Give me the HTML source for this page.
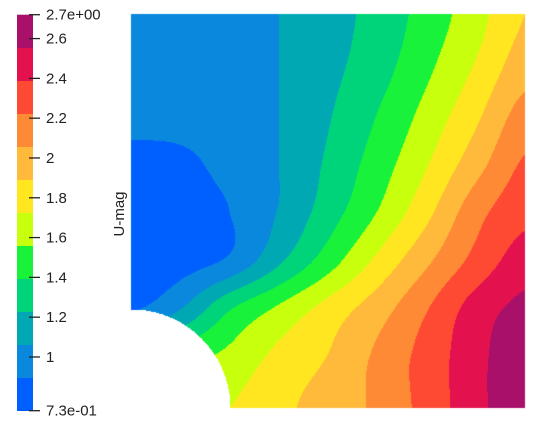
<!DOCTYPE html>
<html><head><meta charset="utf-8"><style>
html,body{margin:0;padding:0;background:#fff;}
#wrap{position:relative;width:546px;height:421px;overflow:hidden;font-family:"Liberation Sans",sans-serif;}
canvas{position:absolute;left:0;top:0;}
svg{position:absolute;left:0;top:0;}
</style></head><body>
<div id="wrap">
<canvas id="field" width="546" height="421"></canvas>
<svg id="bar" width="546" height="421"></svg>
</div>
<script>
const vMin = 0.73, vMax = 2.72;
const bandColors = ["#0060ff","#0a88dd","#00a8b4","#00d47a","#18f23a","#c8ff0c","#ffe620","#ffb93b","#ff8a36","#ff4a33","#e3124f","#a8106a"];
const tickValues = [1, 1.2, 1.4, 1.6, 1.8, 2, 2.2, 2.4, 2.6];
const tickLabels = ["1","1.2","1.4","1.6","1.8","2","2.2","2.4","2.6"];
const endLabels = ["7.3e-01","2.7e+00"];
// U-mag sampled on a 9x9 grid (rows top->bottom, cols left->right)
const row0 = [0.946,0.979,1.020,1.062,1.161,1.285,1.460,1.658,1.891];
const row1 = [0.937,0.970,1.012,1.062,1.178,1.319,1.518,1.733,1.974];
const row2 = [0.921,0.962,1.004,1.062,1.211,1.393,1.609,1.849,2.120];
const row3 = [0.871,0.863,0.954,1.062,1.252,1.468,1.708,1.982,2.240];
const row4 = [0.813,0.829,0.896,1.070,1.310,1.559,1.841,2.156,2.338];
const row5 = [0.796,0.829,0.921,1.194,1.476,1.758,2.023,2.272,2.471];
const row6 = [0.879,1.062,1.385,1.592,1.791,1.982,2.214,2.463,2.604];
const row7 = [1.476,1.526,1.609,1.775,1.899,2.090,2.289,2.500,2.686];
const row8 = [1.642,1.692,1.725,1.849,1.965,2.090,2.285,2.500,2.703];
const grid = [row0,row1,row2,row3,row4,row5,row6,row7,row8];

const plotL = 131, plotT = 14, plotW = 394, plotH = 394, holeR = 99;
const nCols = grid[0].length, nRows = grid.length;
function gx(px){ return (px - plotL) / plotW * (nCols - 1); }
function gy(py){ return (py - plotT) / plotH * (nRows - 1); }
function bandOf(v){ let b = Math.floor((v - vMin) / (vMax - vMin) * bandColors.length); return Math.max(0, Math.min(bandColors.length - 1, b)); }
function g(r, c){ r = Math.max(0, Math.min(nRows-1, r)); c = Math.max(0, Math.min(nCols-1, c)); return grid[r][c]; }
function cr(p0,p1,p2,p3,t){ return 0.5*((2*p1)+(-p0+p2)*t+(2*p0-5*p1+4*p2-p3)*t*t+(-p0+3*p1-3*p2+p3)*t*t*t); }
function sample(fx, fy){
  const c0 = Math.min(nCols - 2, Math.floor(fx)), r0 = Math.min(nRows - 2, Math.floor(fy));
  const tx = fx - c0, ty = fy - r0;
  const rows = [];
  for (let k = -1; k <= 2; k++) rows.push(cr(g(r0+k,c0-1), g(r0+k,c0), g(r0+k,c0+1), g(r0+k,c0+2), tx));
  return cr(rows[0], rows[1], rows[2], rows[3], ty);
}

const cv = document.getElementById('field');
const ctx = cv.getContext('2d');
const rgb = bandColors.map(h => [parseInt(h.substr(1,2),16),parseInt(h.substr(3,2),16),parseInt(h.substr(5,2),16)]);
const img = ctx.createImageData(546, 421);
for (let py = plotT; py < plotT + plotH; py++) {
  for (let px = plotL; px < plotL + plotW; px++) {
    const dx = px - plotL, dy = (plotT + plotH) - py;
    if (dx*dx + dy*dy < holeR*holeR) continue;
    const v = sample(gx(px + 0.5), gy(py + 0.5));
    const col = rgb[bandOf(v)];
    const i = (py*546 + px)*4;
    img.data[i]=col[0]; img.data[i+1]=col[1]; img.data[i+2]=col[2]; img.data[i+3]=255;
  }
}
ctx.putImageData(img, 0, 0);

const svg = document.getElementById('bar');
const NS = 'http://www.w3.org/2000/svg';
const barL = 17, barW = 16, barT = 14.7, barB = 410.7;
function yScale(v){ return barB - (v - vMin) / (vMax - vMin) * (barB - barT); }
const bw = (vMax - vMin) / bandColors.length;
bandColors.forEach((c, i) => {
  const r = document.createElementNS(NS, 'rect');
  const y1 = yScale(vMin + (i+1)*bw), y0 = yScale(vMin + i*bw);
  r.setAttribute('x', barL); r.setAttribute('y', y1);
  r.setAttribute('width', barW); r.setAttribute('height', y0 - y1 + 0.3);
  r.setAttribute('fill', c);
  
  
  svg.appendChild(r);
});
function addTick(v, label) {
  const y = yScale(v);
  const l = document.createElementNS(NS, 'line');
  l.setAttribute('x1', 29); l.setAttribute('x2', 40); l.setAttribute('y1', y); l.setAttribute('y2', y);
  l.setAttribute('stroke', '#222'); l.setAttribute('stroke-width', 1.3);
  
  
  svg.appendChild(l);
  const t = document.createElementNS(NS, 'text');
  t.setAttribute('x', 46); t.setAttribute('y', y + 5);
  t.setAttribute('font-size', '15'); t.setAttribute('fill', '#222');
  t.setAttribute('font-family', 'Liberation Sans, sans-serif');
  t.textContent = label;
  
  
  svg.appendChild(t);
}
tickValues.forEach((v, i) => addTick(v, tickLabels[i]));
addTick(vMin, endLabels[0]);
addTick(vMax, endLabels[1]);
const title = document.createElementNS(NS, 'text');
title.setAttribute('transform', 'translate(124,214) rotate(-90)');
title.setAttribute('text-anchor', 'middle');
title.setAttribute('font-size', '15'); title.setAttribute('fill', '#222');
title.setAttribute('font-family', 'Liberation Sans, sans-serif');
title.textContent = 'U-mag';


svg.appendChild(title);
</script>
</body></html>
